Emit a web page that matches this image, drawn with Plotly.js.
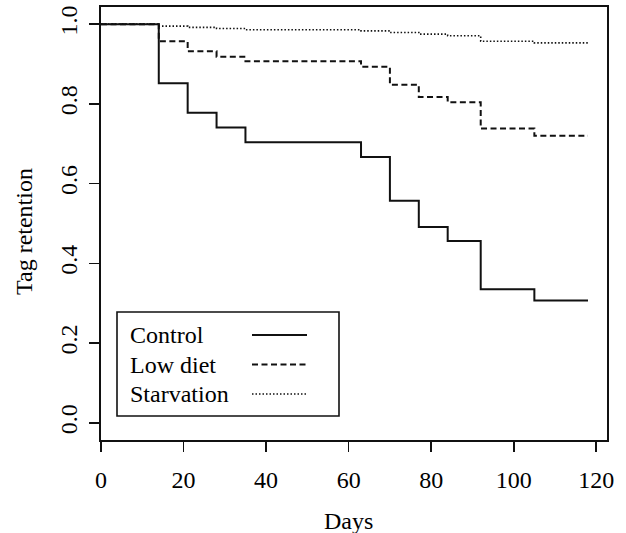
<!DOCTYPE html>
<html><head><meta charset="utf-8">
<script src="https://cdn.plot.ly/plotly-3.0.1.min.js"></script>
<style>html,body{margin:0;padding:0;background:#fff;}#chart{width:626px;height:533px;}</style>
</head><body><div id="chart"></div>
<script>
// ---- data ----
const days = [0, 14, 21, 28, 35, 63, 70, 77, 84, 92, 105, 118];
const control = [1, 0.852, 0.778, 0.741, 0.704, 0.667, 0.557, 0.491, 0.456, 0.335, 0.307, 0.307];
const lowDiet = [1, 0.957, 0.932, 0.918, 0.907, 0.893, 0.848, 0.817, 0.804, 0.738, 0.720, 0.720];
const starvation = [1, 0.995, 0.992, 0.989, 0.986, 0.983, 0.979, 0.975, 0.971, 0.957, 0.953, 0.953];
const seriesNames = ['Control', 'Low diet', 'Starvation'];
const xTickVals = [0, 20, 40, 60, 80, 100, 120];
const yTickVals = [0, 0.2, 0.4, 0.6, 0.8, 1.0];
const yTickText = ['0.0', '0.2', '0.4', '0.6', '0.8', '1.0'];
const xTitle = 'Days';
const yTitle = 'Tag retention';

// ---- layout geometry ----
const W = 626, H = 533;
const M = {l: 101, r: 19, t: 7, b: 93};
const pw = W - M.l - M.r, ph = H - M.t - M.b;
const px = x => (x - M.l) / pw;          // pixel -> paper x
const py = y => (H - M.b - y) / ph;      // pixel -> paper y
const FONT = 'Liberation Serif, Times New Roman, serif';
const TXT = {family: FONT, size: 24, color: '#000'};

const styles = [
  {dash: 'solid', width: 2},
  {dash: '6px,3.5px', width: 2},
  {dash: '1.5px,2px', width: 1.6}
];
const seriesData = [control, lowDiet, starvation];

// draw starvation, low diet, then control on top
const traces = [2, 1, 0].map(i => ({
  x: days, y: seriesData[i], name: seriesNames[i], type: 'scatter', mode: 'lines',
  line: {shape: 'hv', color: '#111', width: styles[i].width, dash: styles[i].dash},
  showlegend: false, hoverinfo: 'skip'
}));

// manual legend (text left, sample line right), as in the reference
const legBox = {x0: 117, x1: 339, y0: 312, y1: 416};
const legRowsY = [335, 364.5, 394];
const shapes = [{
  type: 'rect', xref: 'paper', yref: 'paper',
  x0: px(legBox.x0), x1: px(legBox.x1), y0: py(legBox.y1), y1: py(legBox.y0),
  line: {color: '#111', width: 1.6}, fillcolor: 'rgba(0,0,0,0)'
}];
const annotations = [];
seriesNames.forEach((n, i) => {
  annotations.push({
    xref: 'paper', yref: 'paper', x: px(128), y: py(legRowsY[i]),
    xanchor: 'left', yanchor: 'middle', showarrow: false, text: n, font: TXT
  });
  shapes.push({
    type: 'line', xref: 'paper', yref: 'paper',
    x0: px(252), x1: px(307), y0: py(legRowsY[i]), y1: py(legRowsY[i]),
    line: {color: '#111', width: styles[i].width, dash: styles[i].dash}
  });
});
// axis titles placed as in the reference
annotations.push({
  xref: 'paper', yref: 'paper', x: px(348), y: py(521),
  xanchor: 'center', yanchor: 'middle', showarrow: false, text: xTitle, font: TXT
});
annotations.push({
  xref: 'paper', yref: 'paper', x: px(24), y: py(232),
  xanchor: 'center', yanchor: 'middle', showarrow: false, text: yTitle,
  textangle: -90, font: TXT
});

const axisCommon = {
  showgrid: false, zeroline: false, showline: true, mirror: true,
  linecolor: '#111', linewidth: 1.8,
  ticks: 'outside', ticklen: 10, tickwidth: 1.6, tickcolor: '#111',
  tickfont: TXT
};

const layout = {
  width: W, height: H, margin: M,
  paper_bgcolor: '#fff', plot_bgcolor: '#fff',
  font: TXT,
  xaxis: Object.assign({}, axisCommon, {
    range: [0, 122.6], tickvals: xTickVals, ticktext: xTickVals.map(String),
    ticklabelstandoff: 7
  }),
  yaxis: Object.assign({}, axisCommon, {
    range: [-0.043, 1.043], tickvals: yTickVals, ticktext: yTickText,
    tickangle: -90, ticklabelstandoff: 3
  }),
  shapes: shapes, annotations: annotations, showlegend: false
};

Plotly.newPlot('chart', traces, layout, {displayModeBar: false, staticPlot: true});
</script>
</body></html>
